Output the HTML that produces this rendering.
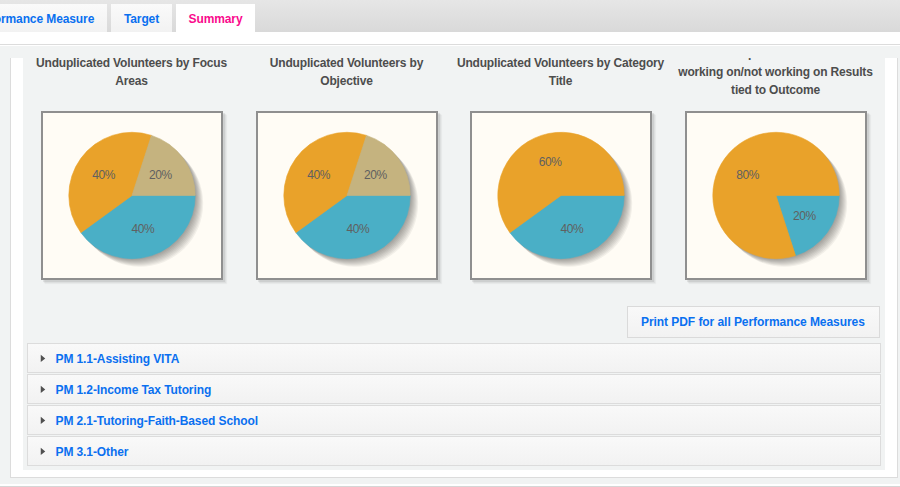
<!DOCTYPE html>
<html><head><meta charset="utf-8">
<style>
*{margin:0;padding:0;box-sizing:border-box}
html,body{width:900px;height:487px;overflow:hidden;background:#f1f3f3;font-family:"Liberation Sans",sans-serif;position:relative}
.abs{position:absolute}
#tabbar{left:0;top:0;width:900px;height:32px;background:linear-gradient(#e6e6e6,#d9d9d9)}
.tab{position:absolute;top:4px;height:28px;background:linear-gradient(#fafafa,#f2f2f2);font-weight:bold;font-size:12px;line-height:14px;padding-top:8px;text-align:center;color:#0a70f0;white-space:nowrap;letter-spacing:-0.1px}
.tab.active{background:#fff;color:#fa0a8c}
#white1{left:0;top:32px;width:900px;height:14px;background:#fff}
#line1{left:0;top:44px;width:900px;height:1px;background:#dcdcdc}
#wbox{left:10px;top:58px;width:888px;height:420px;background:#fff;border-left:1px solid #dcdcdc;border-right:1px solid #dcdcdc;border-bottom:1px solid #dcdcdc}
#panel{left:23px;top:46px;width:862px;height:424px;background:#f1f3f3}
#bot1{left:0;top:484px;width:900px;height:2px;background:#fff}
#bot2{left:0;top:486px;width:900px;height:1px;background:#d6d6d6}
.title{position:absolute;width:215px;text-align:center;font-weight:bold;font-size:12px;line-height:18px;color:#4d4d4d;letter-spacing:-0.17px}
.chart{position:absolute;top:111px;width:182px;height:169px;background:#fffcf5;border:2px solid #8f8f8f;box-shadow:2px 2px 0 rgba(0,0,0,0.07),3px 3px 1px rgba(0,0,0,0.05),4px 4px 1px rgba(0,0,0,0.03)}
.chart svg{position:absolute;left:-2px;top:-2px}
.lbl{font-family:"Liberation Sans",sans-serif;font-size:12px;fill:#606060;letter-spacing:-0.4px}
#pdf{left:627px;top:306px;width:253px;height:32px;border:1px solid #dadada;background:linear-gradient(#f9f9f9,#f2f2f2);font-weight:bold;font-size:12px;line-height:14px;color:#0a70f0;padding:8px 0 0 13px;letter-spacing:-0.06px;white-space:nowrap}
.item{position:absolute;left:27px;width:854px;height:30px;border:1px solid #dcdcdc;background:linear-gradient(#f9f9f9,#f2f2f2);font-weight:bold;font-size:12px;line-height:14px;color:#0a70f0;white-space:nowrap}
.item svg.tri{position:absolute;left:11px;top:9px}
.item .txt{position:absolute;left:27.5px;top:8px;letter-spacing:-0.1px}
</style></head><body>
<div id="tabbar" class="abs"></div>
<div class="tab" style="left:-42px;width:149px">Performance Measure</div>
<div class="tab" style="left:111px;width:61px">Target</div>
<div class="tab active" style="left:176px;width:79px">Summary</div>
<div id="white1" class="abs"></div>
<div id="line1" class="abs"></div>
<div id="wbox" class="abs"></div>
<div id="panel" class="abs"></div>
<div id="bot1" class="abs"></div>
<div id="bot2" class="abs"></div>

<div class="title" style="left:24px;top:54px">Unduplicated Volunteers by Focus<br>Areas</div>
<div class="title" style="left:239px;top:54px">Unduplicated Volunteers by<br>Objective</div>
<div class="title" style="left:453px;top:54px">Unduplicated Volunteers by Category<br>Title</div>
<div class="title" style="left:668px;top:45px"><span style="position:relative;left:-26px;top:2px">.</span><br>working on/not working on Results<br>tied to Outcome</div>

<div class="chart" style="left:41px"><svg width="182" height="169" viewBox="0 0 182 169"><g transform="translate(91,84.5)">
<g fill="#000">
<circle cx="1" cy="1" r="63.2" fill-opacity="0.05"/>
<circle cx="2" cy="2" r="63.2" fill-opacity="0.05"/>
<circle cx="3" cy="3" r="63.2" fill-opacity="0.05"/>
<circle cx="4" cy="4" r="63.2" fill-opacity="0.05"/>
<circle cx="5" cy="5" r="63.2" fill-opacity="0.05"/>
<circle cx="6" cy="6" r="63.2" fill-opacity="0.05"/>
<circle cx="7" cy="7" r="63.2" fill-opacity="0.05"/>
<circle cx="8" cy="8" r="63.2" fill-opacity="0.05"/>
</g>
<path d="M0 0 L63.20 0.00 A63.2 63.2 0 0 1 -51.13 37.15 Z" fill="#4aafc6" stroke="#4aafc6" stroke-width="0.6" stroke-linejoin="round"/>
<text class="lbl" x="10.8" y="37.2" text-anchor="middle">40%</text>
<path d="M0 0 L-51.13 37.15 A63.2 63.2 0 0 1 19.53 -60.11 Z" fill="#e9a22a" stroke="#e9a22a" stroke-width="0.6" stroke-linejoin="round"/>
<text class="lbl" x="-28.3" y="-16.7" text-anchor="middle">40%</text>
<path d="M0 0 L19.53 -60.11 A63.2 63.2 0 0 1 63.20 -0.00 Z" fill="#c5b37f" stroke="#c5b37f" stroke-width="0.6" stroke-linejoin="round"/>
<text class="lbl" x="28.3" y="-16.7" text-anchor="middle">20%</text>
</g></svg></div>
<div class="chart" style="left:256px"><svg width="182" height="169" viewBox="0 0 182 169"><g transform="translate(91,84.5)">
<g fill="#000">
<circle cx="1" cy="1" r="63.2" fill-opacity="0.05"/>
<circle cx="2" cy="2" r="63.2" fill-opacity="0.05"/>
<circle cx="3" cy="3" r="63.2" fill-opacity="0.05"/>
<circle cx="4" cy="4" r="63.2" fill-opacity="0.05"/>
<circle cx="5" cy="5" r="63.2" fill-opacity="0.05"/>
<circle cx="6" cy="6" r="63.2" fill-opacity="0.05"/>
<circle cx="7" cy="7" r="63.2" fill-opacity="0.05"/>
<circle cx="8" cy="8" r="63.2" fill-opacity="0.05"/>
</g>
<path d="M0 0 L63.20 0.00 A63.2 63.2 0 0 1 -51.13 37.15 Z" fill="#4aafc6" stroke="#4aafc6" stroke-width="0.6" stroke-linejoin="round"/>
<text class="lbl" x="10.8" y="37.2" text-anchor="middle">40%</text>
<path d="M0 0 L-51.13 37.15 A63.2 63.2 0 0 1 19.53 -60.11 Z" fill="#e9a22a" stroke="#e9a22a" stroke-width="0.6" stroke-linejoin="round"/>
<text class="lbl" x="-28.3" y="-16.7" text-anchor="middle">40%</text>
<path d="M0 0 L19.53 -60.11 A63.2 63.2 0 0 1 63.20 -0.00 Z" fill="#c5b37f" stroke="#c5b37f" stroke-width="0.6" stroke-linejoin="round"/>
<text class="lbl" x="28.3" y="-16.7" text-anchor="middle">20%</text>
</g></svg></div>
<div class="chart" style="left:470px"><svg width="182" height="169" viewBox="0 0 182 169"><g transform="translate(91,84.5)">
<g fill="#000">
<circle cx="1" cy="1" r="63.2" fill-opacity="0.05"/>
<circle cx="2" cy="2" r="63.2" fill-opacity="0.05"/>
<circle cx="3" cy="3" r="63.2" fill-opacity="0.05"/>
<circle cx="4" cy="4" r="63.2" fill-opacity="0.05"/>
<circle cx="5" cy="5" r="63.2" fill-opacity="0.05"/>
<circle cx="6" cy="6" r="63.2" fill-opacity="0.05"/>
<circle cx="7" cy="7" r="63.2" fill-opacity="0.05"/>
<circle cx="8" cy="8" r="63.2" fill-opacity="0.05"/>
</g>
<path d="M0 0 L63.20 0.00 A63.2 63.2 0 0 1 -51.13 37.15 Z" fill="#4aafc6" stroke="#4aafc6" stroke-width="0.6" stroke-linejoin="round"/>
<text class="lbl" x="10.8" y="37.2" text-anchor="middle">40%</text>
<path d="M0 0 L-51.13 37.15 A63.2 63.2 0 1 1 63.20 -0.00 Z" fill="#e9a22a" stroke="#e9a22a" stroke-width="0.6" stroke-linejoin="round"/>
<text class="lbl" x="-10.8" y="-29.4" text-anchor="middle">60%</text>
</g></svg></div>
<div class="chart" style="left:685px"><svg width="182" height="169" viewBox="0 0 182 169"><g transform="translate(91,84.5)">
<g fill="#000">
<circle cx="1" cy="1" r="63.2" fill-opacity="0.05"/>
<circle cx="2" cy="2" r="63.2" fill-opacity="0.05"/>
<circle cx="3" cy="3" r="63.2" fill-opacity="0.05"/>
<circle cx="4" cy="4" r="63.2" fill-opacity="0.05"/>
<circle cx="5" cy="5" r="63.2" fill-opacity="0.05"/>
<circle cx="6" cy="6" r="63.2" fill-opacity="0.05"/>
<circle cx="7" cy="7" r="63.2" fill-opacity="0.05"/>
<circle cx="8" cy="8" r="63.2" fill-opacity="0.05"/>
</g>
<path d="M0 0 L63.20 0.00 A63.2 63.2 0 0 1 19.53 60.11 Z" fill="#4aafc6" stroke="#4aafc6" stroke-width="0.6" stroke-linejoin="round"/>
<text class="lbl" x="28.3" y="24.5" text-anchor="middle">20%</text>
<path d="M0 0 L19.53 60.11 A63.2 63.2 0 1 1 63.20 -0.00 Z" fill="#e9a22a" stroke="#e9a22a" stroke-width="0.6" stroke-linejoin="round"/>
<text class="lbl" x="-28.3" y="-16.7" text-anchor="middle">80%</text>
</g></svg></div>

<div id="pdf" class="abs">Print PDF for all Performance Measures</div>

<div class="item" style="top:343px"><svg class="tri" width="8" height="10"><polygon points="1.75,1.75 6.25,5.4 1.75,9" fill="#505050"/></svg><div class="txt">PM 1.1-Assisting VITA</div></div>
<div class="item" style="top:374px"><svg class="tri" width="8" height="10"><polygon points="1.75,1.75 6.25,5.4 1.75,9" fill="#505050"/></svg><div class="txt">PM 1.2-Income Tax Tutoring</div></div>
<div class="item" style="top:405px"><svg class="tri" width="8" height="10"><polygon points="1.75,1.75 6.25,5.4 1.75,9" fill="#505050"/></svg><div class="txt">PM 2.1-Tutoring-Faith-Based School</div></div>
<div class="item" style="top:436px"><svg class="tri" width="8" height="10"><polygon points="1.75,1.75 6.25,5.4 1.75,9" fill="#505050"/></svg><div class="txt">PM 3.1-Other</div></div>
</body></html>
